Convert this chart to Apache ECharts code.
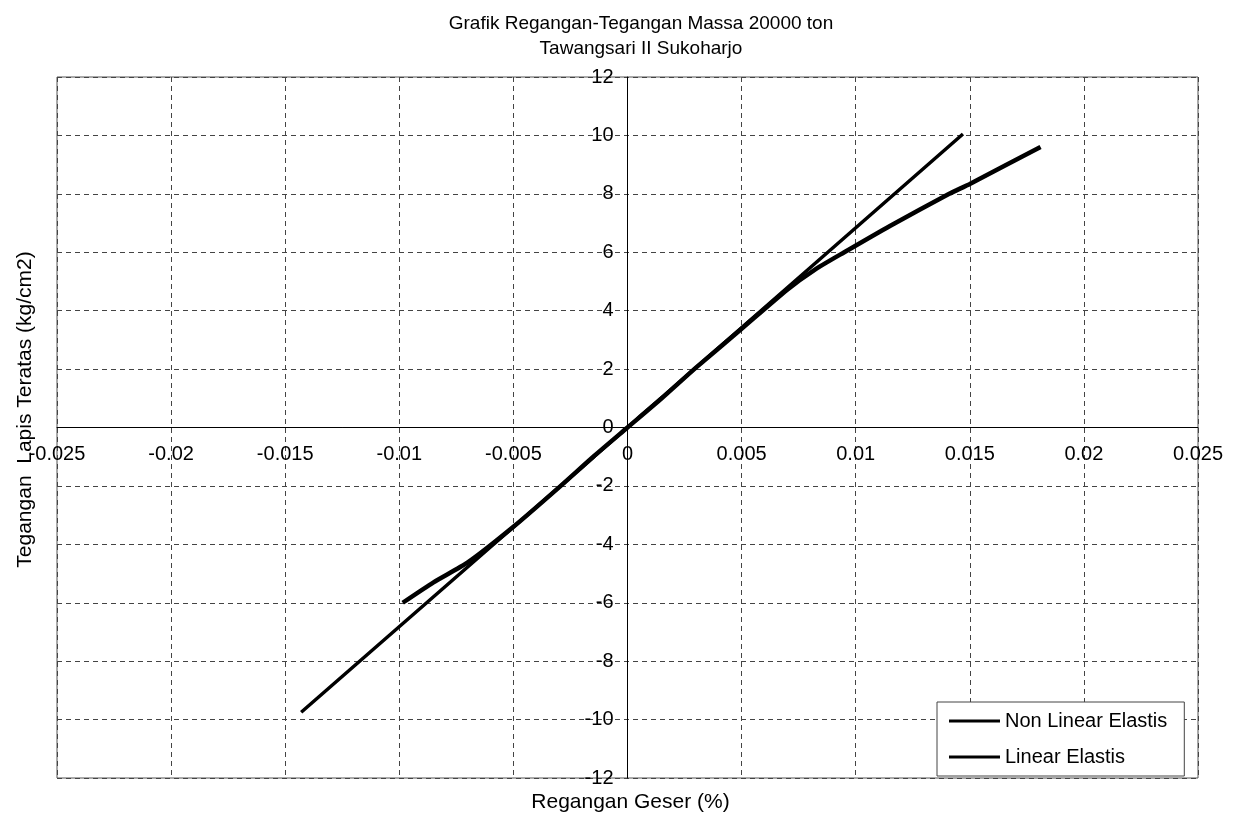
<!DOCTYPE html>
<html>
<head>
<meta charset="utf-8">
<script src="https://cdn.jsdelivr.net/npm/echarts@6/dist/echarts.min.js"></script>
<style>
  html, body { margin: 0; padding: 0; background: #fff; }
  #main { width: 1243px; height: 821px; }
</style>
</head>
<body>
<div id="main"></div>
<script>
// values
var nonLinearX = [-0.00985, -0.0085, -0.007, -0.005, -0.003, -0.0015, 0, 0.0015, 0.003, 0.005, 0.007, 0.0082, 0.0095, 0.0115, 0.0141, 0.015, 0.0181];
var nonLinearY = [-6.0, -5.3, -4.62, -3.4, -2.05, -1.0, 0, 1.0, 2.05, 3.38, 4.72, 5.4, 6.0, 6.9, 8.0, 8.34, 9.6];
var linearX = [-0.0143, 0, 0.0147];
var linearY = [-9.75, 0, 10.05];
var seriesNames = ['Non Linear Elastis', 'Linear Elastis'];

function pairs(xs, ys) {
    return xs.map(function (x, i) { return [x, ys[i]]; });
}

var font = 'Liberation Sans, Arial, sans-serif';
var gridLeft = 57, gridRight = 45, gridTop = 77, gridBottom = 43;
var plotW = 1243 - gridLeft - gridRight;
var plotH = 821 - gridTop - gridBottom;

var myChart = echarts.init(document.getElementById('main'));
myChart.setOption({
    animation: false,
    backgroundColor: '#fff',
    title: {
        text: 'Grafik Regangan-Tegangan Massa 20000 ton\nTawangsari II Sukoharjo',
        left: 636,
        top: 6,
        textAlign: 'center',
        textStyle: {
            fontFamily: font,
            fontSize: 19,
            fontWeight: 'normal',
            color: '#000',
            lineHeight: 25
        }
    },
    legend: {
        data: seriesNames,
        orient: 'vertical',
        left: 937,
        top: 702,
        padding: [9, 17, 9, 12],
        itemWidth: 51,
        itemHeight: 3,
        itemGap: 16,
        icon: 'rect',
        borderColor: '#444',
        borderWidth: 1,
        backgroundColor: '#fff',
        textStyle: {
            fontFamily: font,
            fontSize: 20,
            color: '#000'
        }
    },
    grid: {
        left: gridLeft,
        right: gridRight,
        top: gridTop,
        bottom: gridBottom,
        containLabel: false,
        outerBoundsMode: 'none',
        show: true,
        borderColor: '#555',
        borderWidth: 1
    },
    xAxis: {
        type: 'value',
        min: -0.025,
        max: 0.025,
        interval: 0.005,
        // axis sits on y = 0 (middle of the plot)
        offset: -plotH / 2,
        name: 'Regangan Geser (%)',
        nameLocation: 'middle',
        nameGap: plotH / 2 + 14,
        nameTextStyle: { fontFamily: font, fontSize: 21, color: '#000', padding: [0, 0, 0, 6] },
        axisLine: { onZero: false, lineStyle: { color: '#000', width: 1 } },
        axisTick: { show: false },
        axisLabel: {
            fontFamily: font,
            fontSize: 20,
            color: '#000',
            margin: 17
        },
        splitLine: { show: true, lineStyle: { color: '#444', type: [5, 4], width: 1 } }
    },
    yAxis: {
        type: 'value',
        min: -12,
        max: 12,
        interval: 2,
        // axis sits on x = 0 (middle of the plot)
        offset: -plotW / 2,
        name: 'Tegangan  Lapis Teratas (kg/cm2)',
        nameLocation: 'middle',
        nameGap: plotW / 2 + 21,
        nameTextStyle: { fontFamily: font, fontSize: 21, color: '#000', padding: [0, 0, 0, 36] },
        axisLine: { onZero: false, lineStyle: { color: '#000', width: 1 } },
        axisTick: { show: false },
        axisLabel: {
            fontFamily: font,
            fontSize: 20,
            color: '#000',
            margin: 14
        },
        splitLine: { show: true, lineStyle: { color: '#444', type: [5, 4], width: 1 } }
    },
    series: [
        {
            name: seriesNames[0],
            type: 'line',
            data: pairs(nonLinearX, nonLinearY),
            showSymbol: false,
            symbol: 'none',
            smooth: 0.2,
            lineStyle: { color: '#000', width: 4.5 },
            itemStyle: { color: '#000' }
        },
        {
            name: seriesNames[1],
            type: 'line',
            data: pairs(linearX, linearY),
            showSymbol: false,
            symbol: 'none',
            lineStyle: { color: '#000', width: 3.5 },
            itemStyle: { color: '#000' }
        }
    ]
});
</script>
</body>
</html>
